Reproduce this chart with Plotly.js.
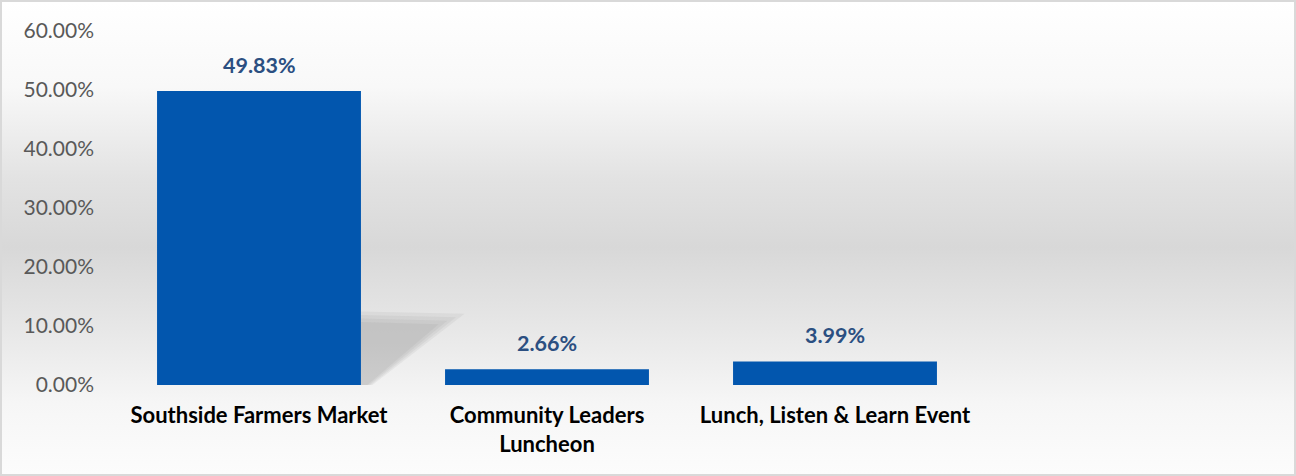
<!DOCTYPE html>
<html>
<head>
<meta charset="utf-8">
<script src="https://cdn.plot.ly/plotly-3.0.1.min.js"></script>
<style>
  html, body { margin: 0; padding: 0; }
  #chart {
    width: 1296px; height: 476px; box-sizing: border-box;
    border: 2px solid #D9D9D9;
    background: linear-gradient(to bottom, #FFFFFF 0%, #F8F8F8 18%, #E2E2E2 38%, #D8D8D8 52%, #E6E6E6 68%, #F6F6F6 85%, #FCFCFC 100%);
  }
</style>
</head>
<body>
<div id="chart"></div>
<script>
// Data
const categories = ["Southside Farmers Market", "Community Leaders<br>Luncheon", "Lunch, Listen & Learn Event"];
const values = [49.83, 2.66, 3.99];
const valueLabels = ["49.83%", "2.66%", "3.99%"];
const yTickVals = [0, 10, 20, 30, 40, 50, 60];
const yTickText = ["0.00%", "10.00%", "20.00%", "30.00%", "40.00%", "50.00%", "60.00%"];

const FONT = "Lato, 'Open Sans', sans-serif";
const BAR_W = 0.708;

const trace = {
  type: "bar",
  x: categories,
  y: values,
  width: BAR_W,
  marker: { color: "#0256AE", line: { width: 0 } },
  hoverinfo: "skip"
};

const annotations = categories.map((c, i) => ({
  x: c, y: values[i], xref: "x", yref: "y",
  text: "<b>" + valueLabels[i] + "</b>",
  showarrow: false, yanchor: "bottom", yshift: 11,
  font: { family: FONT, size: 21.5, color: "#2B4F81" }
}));

// soft perspective shadow behind the tallest bar (layered for a blur effect)
const iMax = values.indexOf(Math.max(...values));
const sh = values[iMax] * 0.25;
const xr = iMax + BAR_W / 2;
const shapes = [0, 1, 2, 3].map(k => {
  const g = 0.03 * k;
  return {
    type: "path", xref: "x", yref: "y", layer: "below",
    path: `M ${xr} 0 L ${xr} ${sh - k * 0.6} L ${xr + 0.36 - g} ${sh * 0.97 - k * 0.6} L ${xr + 0.04 - g * 0.2} 0 Z`,
    fillcolor: "rgba(120,120,120,0.09)", line: { width: 0 }
  };
});

const layout = {
  width: 1292, height: 472,
  margin: { l: 113, r: 315, t: 29, b: 89 },
  paper_bgcolor: "rgba(0,0,0,0)",
  plot_bgcolor: "rgba(0,0,0,0)",
  showlegend: false,
  xaxis: {
    type: "category", range: [-0.5, 2.5],
    showgrid: false, zeroline: false, showline: false, ticks: "",
    ticklabelstandoff: 15,
    tickfont: { family: FONT, size: 22, color: "#000000", weight: "bold" },
    fixedrange: true
  },
  yaxis: {
    range: [0, 60], tickvals: yTickVals, ticktext: yTickText,
    showgrid: false, zeroline: false, showline: false, ticks: "",
    ticklabelstandoff: 20,
    tickfont: { family: FONT, size: 21, color: "#595959" },
    fixedrange: true
  },
  annotations: annotations,
  shapes: shapes
};

Plotly.newPlot("chart", [trace], layout, { displayModeBar: false, staticPlot: true });
</script>
</body>
</html>
